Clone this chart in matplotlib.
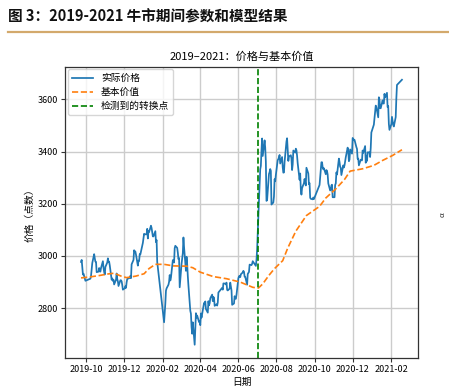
import pandas as pd
import matplotlib
matplotlib.use("Agg")
import matplotlib.pyplot as plt
import matplotlib.dates as mdates

plt.rcParams['font.family'] = ['Noto Sans CJK SC', 'DejaVu Sans']
plt.rcParams['axes.unicode_minus'] = False

# trading-day closes, 2019-09-23 .. 2021-02-18 (one row per month)
price = [
    2977, 2985, 2955, 2929, 2932, 2905,
    2913, 2924, 2948, 2973, 3007, 2991, 2978, 2977, 2938, 2940, 2954, 2941, 2940, 2954, 2980, 2954, 2939, 2929,
    2958, 2975, 2991, 2978, 2978, 2964, 2909, 2914, 2905, 2909, 2891, 2909, 2933, 2911, 2903, 2885, 2907, 2907, 2903, 2889, 2871,
    2876, 2884, 2878, 2899, 2912, 2915, 2917, 2924, 2915, 2968, 2985, 3022, 3017, 3017, 3005, 2963, 2982, 2981, 3007, 3006, 3040, 3050,
    3085, 3083, 3083, 3104, 3067, 3095, 3092, 3116, 3107, 3090, 3075, 3075, 3095, 3053, 3061, 2977,
    2746, 2784, 2818, 2867, 2876, 2890, 2901, 2927, 2906, 2917, 2984, 2984, 2975, 3030, 3039, 3031, 3013, 2988, 2992, 2880,
    2970, 2992, 3011, 3071, 3034, 2943, 2997, 2968, 2923, 2887, 2790, 2779, 2728, 2702, 2746, 2660, 2722, 2781, 2764, 2772, 2747, 2750,
    2735, 2780, 2764, 2820, 2816, 2826, 2797, 2783, 2827, 2811, 2819, 2838, 2852, 2827, 2843, 2839, 2809, 2815, 2810, 2822, 2860,
    2878, 2871, 2895, 2894, 2891, 2898, 2870, 2868, 2875, 2898, 2883, 2868, 2813, 2818, 2846, 2837, 2836, 2852,
    2915, 2922, 2924, 2919, 2930, 2937, 2943, 2939, 2921, 2920, 2890, 2931, 2935, 2939, 2967, 2965, 2970, 2980, 2962, 2985,
    3025, 3090, 3152, 3332, 3345, 3403, 3450, 3383, 3443, 3415, 3361, 3211, 3214, 3314, 3321, 3333, 3326, 3197, 3205, 3228, 3294, 3286, 3310,
    3367, 3371, 3378, 3387, 3354, 3379, 3340, 3319, 3320, 3360, 3438, 3451, 3408, 3364, 3381, 3386, 3373, 3329, 3351, 3404, 3396,
    3411, 3405, 3384, 3355, 3292, 3316, 3255, 3235, 3260, 3279, 3295, 3283, 3270, 3338, 3316, 3275, 3279, 3223, 3219, 3217, 3224, 3218,
    3272, 3359, 3359, 3340, 3332, 3336, 3313, 3329, 3325, 3312, 3278, 3251, 3254, 3270, 3273, 3225,
    3225, 3272, 3278, 3320, 3312, 3373, 3360, 3342, 3338, 3310, 3347, 3339, 3347, 3363, 3378, 3415, 3402, 3363, 3369, 3408, 3392,
    3452, 3449, 3443, 3445, 3417, 3410, 3372, 3373, 3347, 3369, 3367, 3366, 3404, 3395, 3421, 3357, 3383, 3364, 3397, 3397, 3379, 3415, 3473,
    3503, 3528, 3550, 3576, 3570, 3531, 3608, 3598, 3566, 3566, 3596, 3584, 3584, 3621, 3607, 3625, 3570, 3574, 3506, 3483,
    3505, 3533, 3517, 3502, 3496, 3532, 3603, 3655, 3675,
]

# exchange holidays falling on weekdays
holidays = [
    "2019-10-01", "2019-10-02", "2019-10-03", "2019-10-04", "2019-10-07",
    "2020-01-01", "2020-01-24", "2020-01-27", "2020-01-28", "2020-01-29", "2020-01-30", "2020-01-31",
    "2020-04-06", "2020-05-01", "2020-05-04", "2020-05-05", "2020-06-25", "2020-06-26",
    "2020-10-01", "2020-10-02", "2020-10-05", "2020-10-06", "2020-10-07", "2020-10-08",
    "2021-01-01", "2021-02-11", "2021-02-12", "2021-02-15", "2021-02-16", "2021-02-17",
]

value_dates = [
    "2019-09-23", "2019-10-08", "2019-10-22", "2019-11-05", "2019-11-15", "2019-11-27",
    "2019-12-05", "2019-12-20", "2020-01-02", "2020-01-10", "2020-01-20", "2020-02-03",
    "2020-02-18", "2020-03-10", "2020-03-20", "2020-04-01", "2020-04-22", "2020-05-13",
    "2020-06-04", "2020-06-24", "2020-07-03", "2020-07-10", "2020-07-20", "2020-07-29",
    "2020-08-11", "2020-08-19", "2020-09-01", "2020-09-18", "2020-10-09", "2020-10-19",
    "2020-11-04", "2020-11-18", "2020-11-27", "2020-12-17", "2021-01-04", "2021-01-18",
    "2021-02-03", "2021-02-18",
]
value = [
    2916, 2920, 2925, 2931, 2934, 2922,
    2917, 2923, 2932, 2952, 2968, 2968,
    2962, 2961, 2955, 2938, 2921, 2913,
    2900, 2880, 2877, 2893, 2926, 2952,
    2982, 3030, 3095, 3155, 3190, 3222,
    3257, 3293, 3325, 3334, 3347, 3366,
    3385, 3407,
]

change_point = "2020-07-03"

dates = pd.bdate_range("2019-09-23", "2021-02-18", freq="C", holidays=holidays)
n = min(len(dates), len(price))

fig = plt.figure(figsize=(4.49, 3.91), dpi=100)
fig.text(0.018, 1 - 16 / 391, "图 3：2019-2021 牛市期间参数和模型结果",
         fontsize=10.5, fontweight="bold", va="center", ha="left", color="#111111")
fig.add_artist(plt.Line2D([8 / 449, 448 / 449], [1 - 32 / 391, 1 - 32 / 391],
                          color="#D3A96C", linewidth=1.6, transform=fig.transFigure))

ax = fig.add_axes([65 / 449, 1 - 358 / 391, (418 - 65) / 449, (358 - 66.5) / 391])
ax.plot(dates[:n], price[:n], color="#1f77b4", linewidth=1.25, label="实际价格")
ax.plot(pd.to_datetime(value_dates), value, color="#ff7f0e", linestyle="--", linewidth=1.2, label="基本价值")
ax.axvline(pd.Timestamp(change_point), color="green", linestyle="--", linewidth=1.2, label="检测到的转换点")

ax.set_title("2019–2021：价格与基本价值", fontsize=8, pad=5)
ax.set_xlabel("日期", fontsize=7, labelpad=2)
ax.set_ylabel("价格（点数）", fontsize=7, labelpad=2)
ax.xaxis.set_major_locator(mdates.MonthLocator(bymonth=[2, 4, 6, 8, 10, 12]))
ax.xaxis.set_major_formatter(mdates.DateFormatter("%Y-%m"))
ax.set_yticks([2800, 3000, 3200, 3400, 3600])
ax.tick_params(labelsize=6.5, length=3, width=0.8, color="#333333", pad=2)
ax.grid(True, color="#cccccc", linewidth=1.0)
for s in ax.spines.values():
    s.set_color("#333333")
    s.set_linewidth(0.9)
ax.legend(loc="upper left", fontsize=7, framealpha=0.8, handlelength=2.2,
          borderaxespad=0.3, labelspacing=0.4)

fig.text(443 / 449, 1 - 215 / 391, "α", fontsize=5.5, rotation=90, ha="center", va="center", color="#333333")

fig.savefig("out.png", dpi=100)
